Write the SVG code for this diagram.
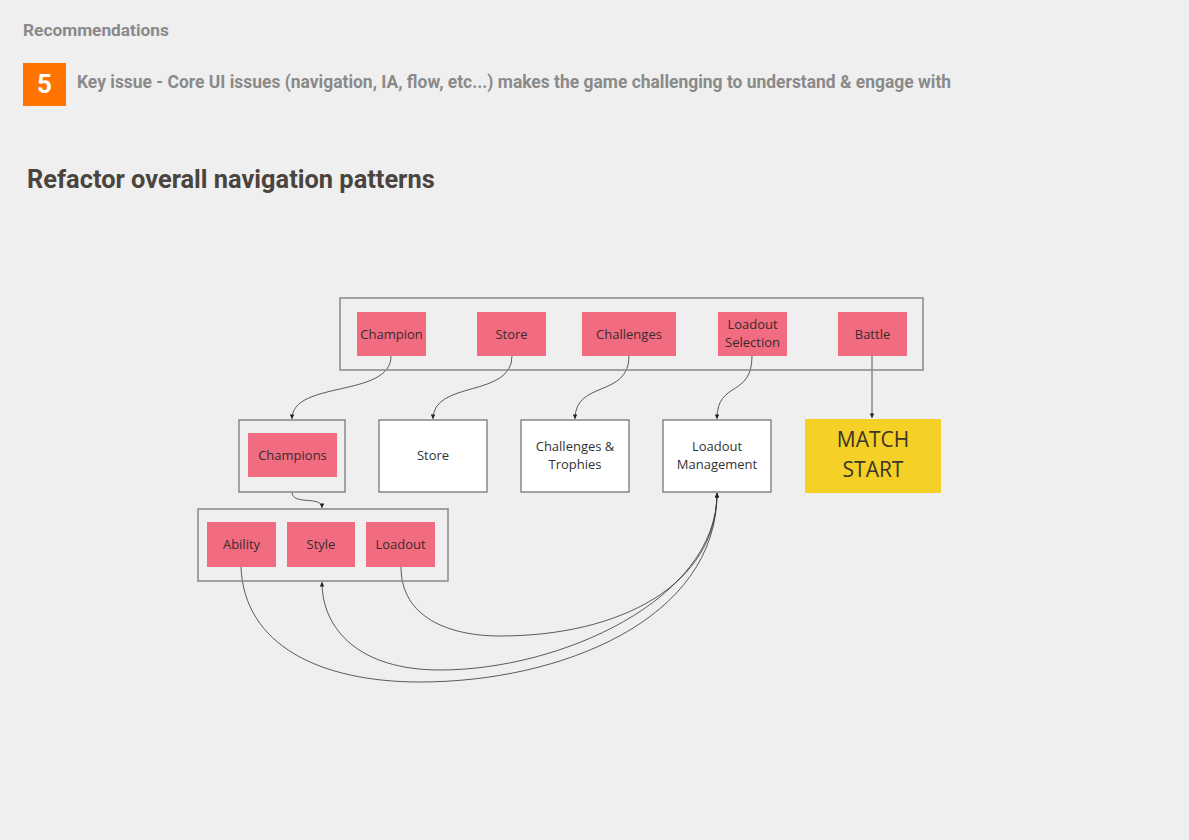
<svg xmlns="http://www.w3.org/2000/svg" width="1189" height="840" viewBox="0 0 1189 840">
<style>
.bg{fill:#efefef}
.cont{fill:none;stroke:#8e8e8e;stroke-width:1.6}
.pink{fill:#f16c80}
.white{fill:#ffffff;stroke:#8e8e8e;stroke-width:1.6}
.lbl{font-family:"Open Sans","Noto Sans",sans-serif;font-size:13px;fill:#3b2a2c;text-anchor:middle}
.wl{font-family:"Open Sans","Noto Sans",sans-serif;font-size:13px;fill:#333;text-anchor:middle}
.hd{font-family:Roboto,"Liberation Sans",sans-serif;font-weight:bold}
.conn{fill:none;stroke:#333;stroke-width:0.8}
</style>
<defs>
<marker id="ah" viewBox="0 0 8 8" refX="8" refY="4" markerWidth="6" markerHeight="4.5" markerUnits="userSpaceOnUse" orient="auto">
<path d="M0,0 L8,4 L0,8 z" fill="#222"/>
</marker>
</defs>
<rect class="bg" x="0" y="0" width="1189" height="840"/>
<text class="hd" x="23" y="36" font-size="17.3" fill="#8a8a8a">Recommendations</text>
<g id="badge">
<rect x="23" y="63" width="43" height="43" fill="#ff7300"/>
<text class="hd" x="44.5" y="93" font-size="26" fill="#ffffff" text-anchor="middle">5</text>
</g>
<text class="hd" x="77" y="88" font-size="17.45" fill="#8a8a8a">Key issue - Core UI issues (navigation, IA, flow, etc...) makes the game challenging to understand &amp; engage with</text>
<text class="hd" x="27" y="188" font-size="25.4" fill="#4a443f">Refactor overall navigation patterns</text>

<g id="connectors">
<path class="conn" d="M391,356 C391,398 292,380 292,419" marker-end="url(#ah)"/>
<path class="conn" d="M512,356 C512,398 433,380 433,419" marker-end="url(#ah)"/>
<path class="conn" d="M629,356 C629,398 575,380 575,419" marker-end="url(#ah)"/>
<path class="conn" d="M752,356 C752,398 717,380 717,419" marker-end="url(#ah)"/>
<path class="conn" d="M872,356 L872,418" marker-end="url(#ah)"/>
<path class="conn" d="M292,492 C292,506 322,495 322,508" marker-end="url(#ah)"/>
<path class="conn" d="M241,567 C244,645 320,682 420,682 C560,682 717,620 717,493" marker-end="url(#ah)"/>
<path class="conn" d="M717,493 C717,600 560,670 440,670 C360,670 322,630 322,582" marker-end="url(#ah)"/>
<path class="conn" d="M401,567 C401,618 450,636 500,636 C620,636 717,585 717,493" marker-end="url(#ah)"/>
</g>

<g id="topbar"><rect class="cont" x="340" y="298" width="583" height="72"/></g>
<g id="n-champion"><rect class="pink" x="357" y="312" width="69" height="44"/><text class="lbl" x="391.5" y="338.5">Champion</text></g>
<g id="n-store"><rect class="pink" x="477" y="312" width="69" height="44"/><text class="lbl" x="511.5" y="338.5">Store</text></g>
<g id="n-challenges"><rect class="pink" x="582" y="312" width="94" height="44"/><text class="lbl" x="629" y="338.5">Challenges</text></g>
<g id="n-loadoutsel"><rect class="pink" x="718" y="312" width="69" height="44"/><text class="lbl" x="752.5" y="329">Loadout</text><text class="lbl" x="752.5" y="347">Selection</text></g>
<g id="n-battle"><rect class="pink" x="838" y="312" width="69" height="44"/><text class="lbl" x="872.5" y="338.5">Battle</text></g>

<g id="n-champions-box"><rect class="cont" x="239" y="420" width="106" height="72"/><rect class="pink" x="248" y="433" width="89" height="44"/><text class="lbl" x="292.5" y="459.5">Champions</text></g>
<g id="n-storepage"><rect class="white" x="379" y="420" width="108" height="72"/><text class="wl" x="433" y="460">Store</text></g>
<g id="n-chtrophies"><rect class="white" x="521" y="420" width="108" height="72"/><text class="wl" x="575" y="451">Challenges &amp;</text><text class="wl" x="575" y="469">Trophies</text></g>
<g id="n-loadoutmgmt"><rect class="white" x="663" y="420" width="108" height="72"/><text class="wl" x="717" y="451">Loadout</text><text class="wl" x="717" y="469">Management</text></g>
<g id="n-match"><rect x="805" y="419" width="136" height="74" fill="#f5d027"/><text x="873" y="447" font-family="'Open Sans','Noto Sans',sans-serif" font-size="21" fill="#3a3528" text-anchor="middle">MATCH</text><text x="873" y="477" font-family="'Open Sans','Noto Sans',sans-serif" font-size="21" fill="#3a3528" text-anchor="middle">START</text></g>

<g id="n-sub-box"><rect class="cont" x="198" y="509" width="250" height="72"/></g>
<g id="n-ability"><rect class="pink" x="207" y="522" width="69" height="45"/><text class="lbl" x="241.5" y="549">Ability</text></g>
<g id="n-style"><rect class="pink" x="287" y="522" width="68" height="45"/><text class="lbl" x="321" y="549">Style</text></g>
<g id="n-loadout"><rect class="pink" x="366" y="522" width="69" height="45"/><text class="lbl" x="400.5" y="549">Loadout</text></g>
</svg>
